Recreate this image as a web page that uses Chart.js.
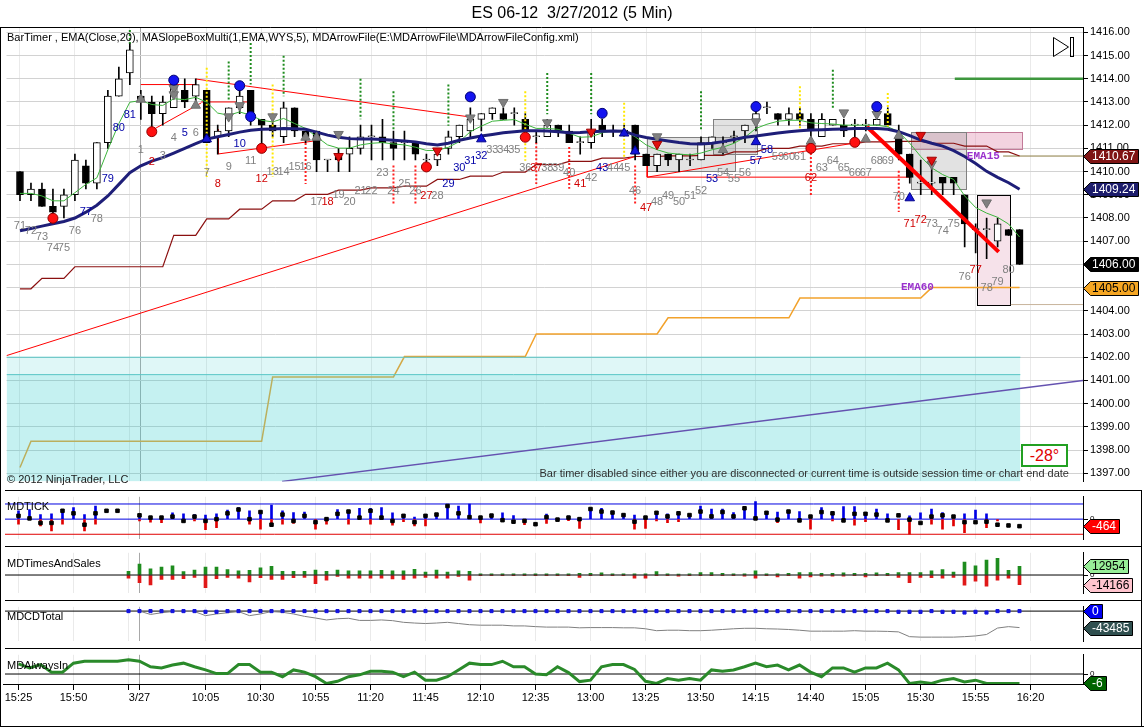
<!DOCTYPE html>
<html>
<head>
<meta charset="utf-8">
<title>ES 06-12 3/27/2012 (5 Min)</title>
<script src="https://cdn.jsdelivr.net/npm/chart.js@4.4.1/dist/chart.umd.min.js"></script>
<style>
body { margin: 0; background: #fff; font-family: "Liberation Sans", Arial, sans-serif; }
#wrap { position: relative; width: 1144px; height: 728px; overflow: hidden; background: #fff; }
canvas { position: absolute; left: 0; }
.txt { position: absolute; font-size: 11px; line-height: 13px; color: #000; white-space: nowrap; }
#title { left: 0; width: 1144px; top: 4px; text-align: center; font-size: 16px; line-height: 18px; }
#frame { position: absolute; left: 0; top: 27px; width: 1160px; height: 699px; border-left: 1px solid #000; border-bottom: 1px solid #000; pointer-events: none; }
#frameR { position: absolute; left: 1141px; top: 490px; width: 0; height: 237px; border-left: 1px solid #000; pointer-events: none; }
#angle { position: absolute; left: 1021px; top: 444px; width: 43px; height: 19px; border: 2px solid #22A022; color: #E00000; font-size: 16px; line-height: 19px; text-align: center; background: #fff; }
#play { position: absolute; left: 1052px; top: 36px; }
</style>
</head>
<body>
<div id="wrap">
  <canvas id="cMain" width="1144" height="490" style="top:0px"></canvas>
  <canvas id="cTick" width="1144" height="56" style="top:490px"></canvas>
  <canvas id="cTas" width="1144" height="54" style="top:546px"></canvas>
  <canvas id="cCd" width="1144" height="48" style="top:600px"></canvas>
  <canvas id="cAlw" width="1144" height="80" style="top:648px"></canvas>

  <div class="txt" id="title">ES 06-12&nbsp; 3/27/2012 (5 Min)</div>
  <div class="txt" style="left:7px; top:31px;">BarTimer , EMA(Close,20), MASlopeBoxMulti(1,EMA,WYS,5), MDArrowFile(E:\MDArrowFile\MDArrowFileConfig.xml)</div>
  <div class="txt" style="left:7px; top:473px; color:#202020;">© 2012 NinjaTrader, LLC</div>
  <div class="txt" style="right:75px; top:467px; color:#303030;">Bar timer disabled since either you are disconnected or current time is outside session time or chart end date</div>
  <div id="angle">-28°</div>
  <svg id="play" width="24" height="23"><polygon points="1.5,1.5 16.5,11 1.5,20.5" fill="none" stroke="#000" stroke-width="1"/><rect x="18.5" y="1.5" width="3" height="19" fill="none" stroke="#000" stroke-width="1"/></svg>
  <div class="txt" style="left:7px; top:500px;">MDTICK</div>
  <div class="txt" style="left:7px; top:557px;">MDTimesAndSales</div>
  <div class="txt" style="left:7px; top:610px;">MDCDTotal</div>
  <div class="txt" style="left:7px; top:659px;">MDAlwaysIn</div>
  <div id="frame"></div>
  <div id="frameR"></div>
</div>

<script>
// 5 min bars: 15:25-16:15 on 3/26, then 9:35-16:15 on 3/27 (index 0..91)
const open = [
  1410, 1409, 1409.25, 1408.5, 1408.5, 1409, 1410.25, 1409.5, 1411.25, 1413.25,
  1414.25, 1413.25, 1413, 1412.5, 1412.75, 1413.5, 1413.25, 1413.5, 1411.5, 1411.75,
  1412.75, 1413.5, 1412.25, 1412, 1411.5, 1412.75, 1411.75, 1411.75, 1410.5, 1410.75,
  1410.75, 1411, 1411.5, 1411.5, 1411.25, 1411.25, 1411.25, 1410.5, 1410.5, 1411,
  1411.5, 1411.75, 1412.25, 1412.5, 1412.5, 1412.5, 1412.25, 1411.5, 1411.5, 1412,
  1411.75, 1411.25, 1411.25, 1412, 1411.75, 1411.75, 1412, 1410.75, 1410.25, 1410.75,
  1410.5, 1410.5, 1410.5, 1411.25, 1411.25, 1411.5, 1411.75, 1412.25, 1412.75, 1412.5,
  1412.25, 1412.5, 1412.25, 1411.5, 1412, 1412, 1412, 1412, 1412, 1412.5,
  1411.5, 1410.75, 1409.5, 1409.5, 1409.75, 1409.75, 1409, 1407.5, 1407.5, 1407,
  1407.5, 1407.5
];
const high = [
  1410, 1409.5, 1409.5, 1409.25, 1409.25, 1410.75, 1410.5, 1411.25, 1413.5, 1414.5,
  1415.5, 1413.5, 1413.25, 1413.25, 1414, 1414, 1414, 1413.5, 1412, 1412.75,
  1413.5, 1413.5, 1412.25, 1412.25, 1413, 1412.75, 1411.75, 1411.75, 1410.5, 1411,
  1411.5, 1412, 1412, 1412.25, 1411.75, 1411.75, 1411.25, 1410.75, 1411, 1411.75,
  1412, 1412.75, 1412.5, 1412.75, 1412.75, 1412.75, 1412.5, 1411.75, 1412.25, 1412,
  1412, 1411.5, 1412.25, 1412.25, 1412, 1412, 1412, 1410.75, 1410.75, 1410.75,
  1410.75, 1410.75, 1411.5, 1411.5, 1411.5, 1411.75, 1412, 1413, 1413, 1412.5,
  1412.75, 1412.75, 1412.5, 1412.5, 1412.25, 1412.25, 1412.25, 1412.25, 1412.75, 1412.75,
  1412, 1410.75, 1410.5, 1410.25, 1409.75, 1409.75, 1409, 1407.75, 1408, 1408,
  1407.5, 1407.5
];
const low = [
  1408.75, 1408.75, 1408.5, 1408, 1408, 1408.75, 1409.25, 1409.25, 1411, 1413.25,
  1413.75, 1412.25, 1411.75, 1412, 1412.75, 1412.75, 1412.75, 1411.25, 1410.75, 1411.5,
  1412.5, 1412, 1411, 1411.5, 1411.25, 1411.5, 1411.25, 1410, 1410, 1410,
  1410, 1410.75, 1410.5, 1410.5, 1410.5, 1410.5, 1410.5, 1410.25, 1410.25, 1410.75,
  1411.25, 1411.5, 1411.75, 1412.25, 1412.25, 1412, 1411.5, 1411.25, 1411.5, 1411.5,
  1411.25, 1410.75, 1411, 1411.5, 1411.5, 1411.5, 1410.5, 1410.25, 1410, 1410.25,
  1410, 1410.25, 1410.5, 1411, 1410.75, 1411.25, 1411.25, 1411.75, 1412.5, 1412,
  1412, 1412, 1411.25, 1411.5, 1412, 1411.5, 1411.5, 1411.75, 1412, 1412,
  1410.5, 1409.5, 1409, 1409, 1409, 1409, 1406.75, 1406.5, 1406.25, 1406.75,
  1407.25, 1406
];
const close = [
  1409, 1409.25, 1408.5, 1408.25, 1409, 1410.5, 1409.5, 1411.25, 1413.25, 1414,
  1415.25, 1413, 1412.5, 1413, 1413.75, 1413, 1413.75, 1411.25, 1411.75, 1412.75,
  1413.25, 1412.25, 1412, 1411.75, 1412.75, 1411.75, 1411.5, 1410.5, 1410.5, 1410.5,
  1411, 1411.5, 1411.5, 1411.25, 1411, 1411.25, 1410.75, 1410.5, 1410.75, 1411.5,
  1412, 1412.25, 1412.5, 1412.75, 1412.25, 1412.5, 1411.75, 1411.5, 1412, 1411.75,
  1411.25, 1411.25, 1411.75, 1411.75, 1411.75, 1411.75, 1410.75, 1410.25, 1410.75, 1410.5,
  1410.75, 1410.5, 1411.25, 1411.5, 1411.25, 1411.5, 1412, 1412.5, 1412.75, 1412.25,
  1412.5, 1412.25, 1411.75, 1412.25, 1412.25, 1411.75, 1412, 1412, 1412.25, 1412,
  1410.75, 1409.75, 1409.5, 1409.5, 1409.5, 1409.5, 1407.75, 1407.5, 1407.5, 1407.75,
  1407.25, 1406
];
// EMA(Close,20), thin green
const ema20 = [
  1409.06, 1409.06, 1408.95, 1408.74, 1408.74, 1409.09, 1409.45, 1409.73, 1410.94, 1412.07,
  1412.99, 1413.06, 1412.89, 1412.85, 1413.14, 1413.1, 1413.2, 1412.99, 1412.52, 1412.43,
  1412.57, 1412.43, 1412.21, 1412.14, 1412.29, 1412.07, 1411.86, 1411.5, 1411.15, 1411.01,
  1411.01, 1411.15, 1411.22, 1411.25, 1411.19, 1411.15, 1411.05, 1410.91, 1410.91, 1411.05,
  1411.29, 1411.72, 1411.96, 1412.17, 1412.21, 1412.24, 1412.04, 1411.86, 1411.86, 1411.82,
  1411.65, 1411.48, 1411.5, 1411.67, 1411.76, 1411.76, 1411.5, 1411.15, 1410.94, 1410.8,
  1410.75, 1410.72, 1410.8, 1410.94, 1411.05, 1411.22, 1411.48, 1411.86, 1412.04, 1412.17,
  1412.21, 1412.21, 1412.1, 1412.07, 1412.05, 1412, 1412, 1412, 1412, 1411.93,
  1411.72, 1411.22, 1410.65, 1410.16, 1409.87, 1409.66, 1408.95, 1408.45, 1408.21, 1408.03,
  1407.74, 1407.18
];
// slope EMA, thick navy
const emaSlow = [
  1407.45, 1407.55, 1407.65, 1407.75, 1407.85, 1408, 1408.25, 1408.55, 1408.95, 1409.45,
  1409.95, 1410.25, 1410.45, 1410.6, 1410.8, 1411, 1411.2, 1411.4, 1411.5, 1411.6,
  1411.7, 1411.78, 1411.82, 1411.84, 1411.86, 1411.85, 1411.82, 1411.7, 1411.57, 1411.48,
  1411.42, 1411.4, 1411.4, 1411.38, 1411.35, 1411.32, 1411.28, 1411.2, 1411.15, 1411.22,
  1411.35, 1411.45, 1411.53, 1411.6, 1411.67, 1411.72, 1411.76, 1411.76, 1411.75, 1411.72,
  1411.67, 1411.68, 1411.72, 1411.74, 1411.75, 1411.74, 1411.57, 1411.47, 1411.39, 1411.32,
  1411.25, 1411.2, 1411.19, 1411.22, 1411.29, 1411.38, 1411.48, 1411.53, 1411.6, 1411.66,
  1411.72, 1411.76, 1411.79, 1411.8, 1411.82, 1411.84, 1411.86, 1411.86, 1411.86, 1411.82,
  1411.72, 1411.55, 1411.36, 1411.22, 1411.1, 1410.9, 1410.65, 1410.35, 1410.01, 1409.75,
  1409.52, 1409.24
];
// EMA15 (15 min), dark red steps
const ema15 = [
  1404.95, 1404.95, 1405.4, 1405.4, 1405.4, 1405.9, 1405.9, 1405.9, 1405.9, 1405.9,
  1405.9, 1405.9, 1405.9, 1405.9, 1407.25, 1407.25, 1407.25, 1407.96, 1407.96, 1407.96,
  1408.38, 1408.38, 1408.38, 1408.74, 1408.74, 1408.74, 1409.02, 1409.02, 1409.02, 1409.2,
  1409.2, 1409.2, 1409.3, 1409.3, 1409.3, 1409.37, 1409.37, 1409.37, 1409.66, 1409.66,
  1409.66, 1409.8, 1409.8, 1409.8, 1409.98, 1409.98, 1409.98, 1410.3, 1410.3, 1410.3,
  1410.44, 1410.44, 1410.44, 1410.58, 1410.58, 1410.58, 1410.65, 1410.65, 1410.65, 1410.68,
  1410.68, 1410.68, 1410.7, 1410.7, 1410.7, 1410.85, 1410.85, 1410.85, 1411, 1411,
  1411, 1411.1, 1411.1, 1411.1, 1411.2, 1411.2, 1411.2, 1411.28, 1411.28, 1411.28,
  1411.3, 1411.3, 1411.3, 1411.22, 1411.22, 1411.22, 1411.1, 1411.1, 1411.1, 1410.85,
  1410.85, 1410.67
];
// EMA60 (60 min), orange steps
const ema60 = [
  1397.25, 1398.38, 1398.38, 1398.38, 1398.38, 1398.38, 1398.38, 1398.38, 1398.38, 1398.38,
  1398.38, 1398.38, 1398.38, 1398.38, 1398.38, 1398.38, 1398.38, 1398.38, 1398.38, 1398.38,
  1398.38, 1398.38, 1398.38, 1401.15, 1401.15, 1401.15, 1401.15, 1401.15, 1401.15, 1401.15,
  1401.15, 1401.15, 1401.15, 1401.15, 1401.15, 1402.03, 1402.03, 1402.03, 1402.03, 1402.03,
  1402.03, 1402.03, 1402.03, 1402.03, 1402.03, 1402.03, 1402.03, 1403, 1403, 1403,
  1403, 1403, 1403, 1403, 1403, 1403, 1403, 1403, 1403, 1403.7,
  1403.7, 1403.7, 1403.7, 1403.7, 1403.7, 1403.7, 1403.7, 1403.7, 1403.7, 1403.7,
  1403.7, 1404.55, 1404.55, 1404.55, 1404.55, 1404.55, 1404.55, 1404.55, 1404.55, 1404.55,
  1404.55, 1404.55, 1404.55, 1405, 1405, 1405, 1405, 1405, 1405, 1405,
  1405, 1405
];
// bar counters printed under the bars
const barNumbers = [
  71, 72, 73, 74, 75, 76, 77, 78, 79, 80,
  81, 1, 2, 3, 4, 5, 6, 7, 8, 9,
  10, 11, 12, 13, 14, 15, 16, 17, 18, 19,
  20, 21, 22, 23, 24, 25, 26, 27, 28, 29,
  30, 31, 32, 33, 34, 35, 36, 37, 38, 39,
  40, 41, 42, 43, 44, 45, 46, 47, 48, 49,
  50, 51, 52, 53, 54, 55, 56, 57, 58, 59,
  60, 61, 62, 63, 64, 65, 66, 67, 68, 69,
  70, 71, 72, 73, 74, 75, 76, 77, 78, 79,
  80, null
];
const barNumberPrice = [
  1407.67, 1407.42, 1407.18, 1406.71, 1406.71, 1407.46, 1408.24, 1407.96, 1409.69, 1411.9,
  1412.43, 1410.94, 1410.4, 1410.68, 1411.43, 1411.65, 1411.65, 1409.94, 1409.45, 1410.2,
  1411.19, 1410.44, 1409.69, 1409.97, 1409.97, 1410.2, 1410.2, 1408.67, 1408.67, 1408.98,
  1408.67, 1409.16, 1409.16, 1409.94, 1409.16, 1409.45, 1409.16, 1408.95, 1408.95, 1409.45,
  1410.16, 1410.44, 1410.68, 1410.94, 1410.94, 1410.94, 1410.16, 1410.16, 1410.16, 1410.16,
  1409.94, 1409.45, 1409.73, 1410.16, 1410.16, 1410.16, 1409.16, 1408.45, 1408.67, 1408.95,
  1408.67, 1408.95, 1409.16, 1409.69, 1409.94, 1409.69, 1409.94, 1410.44, 1410.94, 1410.65,
  1410.65, 1410.65, 1409.73, 1410.16, 1410.44, 1410.16, 1409.94, 1409.94, 1410.44, 1410.44,
  1408.92, 1407.74, 1407.93, 1407.74, 1407.46, 1407.74, 1405.48, 1405.76, 1404.98, 1405.23,
  1405.76, null
];
const redNumbered = [12, 18, 22, 28, 37, 47, 51, 57, 72, 81, 82, 87];
const blueNumbered = [6, 8, 9, 10, 15, 20, 39, 40, 41, 42, 53, 63, 67, 68];

const priceTicks = [1397, 1398, 1399, 1400, 1401, 1402, 1403, 1404, 1405, 1406, 1407, 1408, 1409, 1410, 1411, 1412, 1413, 1414, 1415, 1416];
const timeTickBars = [0, 5, 10, 11, 17, 22, 27, 32, 37, 42, 47, 52, 57, 62, 67, 72, 77, 82, 87, 92];
const timeLabels = ['15:25', '15:50', '', '3/27', '10:05', '10:30', '10:55', '11:20', '11:45', '12:10', '12:35', '13:00', '13:25', '13:50', '14:15', '14:40', '15:05', '15:30', '15:55', '16:20'];
const sessionBar = 11;

// markers [bar, price]
const blueCircles = [[14, 1413.94], [20, 1413.7], [21, 1412.37], [41, 1413.22], [53, 1412.51], [67, 1412.8], [78, 1412.8]];
const redCircles = [[3, 1407.99], [12, 1411.72], [22, 1411.0], [37, 1410.2], [46, 1411.48], [72, 1411.0], [76, 1411.26]];
const grayDown = [[14, 1413.6], [14, 1413.32], [19, 1412.37], [20, 1412.85], [23, 1412.37], [29, 1411.61], [41, 1412.32], [44, 1412.99], [48, 1412.11], [58, 1411.51], [67, 1412.15], [75, 1412.54], [78, 1412.47], [83, 1410.33], [88, 1408.66]];
const grayUp = [[11, 1413.11], [16, 1412.85], [26, 1411.47], [27, 1411.47], [64, 1410.94], [72, 1411.3], [77, 1411.4], [80, 1411.54]];
const redDown = [[29, 1410.66], [38, 1410.9], [52, 1411.71], [58, 1411.18], [82, 1411.57], [83, 1410.5]];
const blueUp = [[17, 1411.4], [42, 1411.4], [55, 1411.65], [56, 1410.88], [67, 1411.28], [81, 1408.86]];

// dotted signal lines [bar, top, bottom]
const greenDots = [[10, 1416.1, 1415.4], [19, 1414.74, 1413.03], [21, 1415.54, 1413.75], [24, 1414.99, 1413.25], [31, 1414.0, 1412.25], [34, 1413.46, 1411.75], [39, 1413.75, 1411.97], [48, 1414.25, 1412.47], [52, 1414.25, 1412.47], [62, 1413.46, 1411.75], [74, 1414.39, 1412.68]];
const redDots = [[26, 1411.4, 1409.47], [34, 1410.26, 1408.62], [36, 1410.26, 1408.62], [47, 1411.26, 1409.47], [50, 1411.06, 1409.26], [56, 1410.26, 1408.62], [72, 1410.97, 1408.97], [80, 1410.04, 1408.26]];
const yellowDots = [[17, 1414.47, 1409.77], [23, 1413.75, 1409.77], [46, 1413.46, 1410.47], [55, 1412.97, 1410.54], [71, 1413.68, 1411.82], [79, 1413.39, 1411.82]];

// drawn lines [bar1, price1, bar2, price2]
const redLines = [
  [-1.23, 1402.07, 56, 1410.65],
  [16, 1413.99, 41, 1412.35],
  [11, 1413.75, 16, 1413.75],
  [11.9, 1411.75, 16.5, 1412.96],
  [16.5, 1413.0, 20.8, 1413.0],
  [18.05, 1411.82, 18.05, 1410.76],
  [18.05, 1410.76, 26.8, 1411.32],
  [57.1, 1410.72, 57.1, 1409.76],
  [57.1, 1409.76, 81.1, 1409.76],
  [57.1, 1409.76, 77.1, 1411.32]
];
const thickRed = [77.1, 1411.93, 89.1, 1406.54];
const purpleLine = [23.86, 1396.65, 96.77, 1401.0];
const greenLevel = [85.1, 1414, 96.77, 1414];
const ema15Ext = [89.5, 1410.67, 96.77, 1410.67];
const tanLevel = [90.2, 1404.27, 96.77, 1404.27];
const cyanZone = [[-1.23, 91.07, 1402.0], [-1.23, 91.07, 1401.25]];
// boxes [bar1, bar2, top, bottom]
const grayBoxes = [[57.1, 65.1, 1411.51, 1410.04], [63.1, 67.1, 1412.25, 1410.75], [81.1, 86.1, 1411.7, 1409.23]];
const pinkBoxes = [[81.1, 91.2, 1411.72, 1410.97]];
const frameBoxes = [[87.1, 90.1, 1408.98, 1404.27]];
const lineNotes = [['EMA15', 87.7, 1410.64], ['EMA60', 81.7, 1405.0]];

// MDTICK: high, low, close per bar
const tickHigh = [
  550, 633, 300, 350, 633, 767, 300, 867, 0, 0,
  null, 300, 167, 167, 417, 350, 300, 267, 350, 600,
  767, 550, 550, 933, 550, 433, 467, 0, 100, 633,
  550, 717, 717, 767, 417, 267, 133, 267, 383, 933,
  867, 1000, 0, 300, 417, 233, 0, 0, 333, 0,
  200, 0, 717, 717, 500, 350, 267, 0, 433, 350,
  467, 300, 867, 667, 667, 433, 767, 1167, 500, 467,
  550, 500, 0, 767, 467, 833, 833, 383, 667, 350,
  0, 217, 417, 667, 433, 0, 350, 600, 350, 0,
  0, 0
];
const tickLow = [
  -333, 0, -450, -783, -333, 0, -783, -333, 0, 0,
  null, -117, -200, -233, 0, 0, -117, -700, -567, 0,
  0, -333, -667, -500, -333, -283, 0, -667, -333, 0,
  -333, 0, -333, 0, -400, -167, -450, -450, 0, 0,
  0, 0, -250, 0, 0, 0, -367, 0, -283, 0,
  -100, -617, 0, 0, 0, 0, -667, -617, -117, -233,
  -167, 0, 0, 0, 0, 0, 0, 0, 0, -233,
  0, 0, -667, 0, -117, 0, -400, -167, 0, 0,
  -700, -1000, 0, -333, -667, -450, -900, 0, -567, -117,
  0, 0
];
const tickClose = [
  217, 50, -250, -250, 550, 383, -367, 383, 550, 550,
  null, 250, 100, 100, 167, -117, 167, -117, 0, 383,
  633, 0, 467, -367, 300, -117, 217, -200, 0, 350,
  500, 100, 550, 100, -117, 217, -200, 217, 300, 867,
  383, 133, 100, 233, -67, -167, -117, -333, 133, -33,
  100, 0, 667, 500, 433, 267, -167, 100, 417, 183,
  383, 267, 500, 183, 467, 183, 717, 50, 417, -33,
  500, -83, 167, 467, 383, -83, 350, 350, 300, -83,
  250, -33, -250, 167, 250, 167, -200, -200, -167, -367,
  -417, -464
];
const tickLevels = [1000, 0, -1000];

// MDTimesAndSales: buy and sell volume per bar
const tasBuy = [
  null, null, null, null, null, null, null, null, null, null,
  5550, 16280, 9250, 11840, 13690, 5180, 7400, 11840, 11840, 8140,
  6290, 7030, 10730, 12950, 5550, 5550, 5550, 7400, 5550, 7400,
  6290, 6290, 6290, 7030, 6290, 6290, 8510, 4440, 7400, 4440,
  6290, 5550, 1850, 1850, 1850, 1850, 1850, 1850, 1850, 1850,
  1850, 2590, 2590, 3330, 1850, 1850, 1850, 1850, 5180, 1850,
  1480, 1850, 3700, 3700, 2590, 1850, 1850, 6290, 1850, 1850,
  2590, 3700, 3700, 2590, 2590, 3330, 2590, 2590, 3330, 2590,
  3700, 3700, 3700, 6290, 8140, 4440, 19240, 13690, 22200, 24790,
  7030, 12954
];
const tasSell = [
  null, null, null, null, null, null, null, null, null, null,
  -4810, -11470, -14800, -6660, -6660, -5550, -3700, -18870, -5550, -3700,
  -4810, -10360, -4070, -6660, -6660, -4070, -3700, -12950, -7770, -2220,
  -4810, -4810, -4810, -4810, -5920, -6660, -4810, -3700, -4810, -4810,
  -2220, -7770, -1110, -1110, -1110, -1110, -1110, -1110, -1110, -1110,
  -1110, -3700, -1110, -1110, -1110, -1110, -4810, -4810, -1110, -1110,
  -1850, -1110, -1110, -1110, -1110, -1110, -1850, -4810, -1110, -2960,
  -1110, -4810, -2960, -1850, -1850, -1850, -1110, -2960, -1110, -1110,
  -3700, -11470, -3700, -4070, -4810, -3700, -15170, -9250, -16650, -7770,
  -4810, -14166
];

// MDCDTotal: cumulative delta and its blue zero dots
const cdTotal = [
  null, null, null, null, null, null, null, null, null, null,
  0, 0, -8820, -4410, -1260, 0, -1260, -11970, -7560, -4410,
  -1260, -11970, -7560, -1260, -3150, -7560, -13860, -18270, -23310, -20160,
  -18900, -24570, -24570, -23310, -25200, -29610, -31500, -32760, -31500, -29610,
  -32760, -35910, -37170, -37170, -37170, -39060, -39060, -40950, -42210, -42210,
  -42210, -44100, -43470, -43470, -43470, -44100, -44100, -46620, -51660, -50400,
  -50400, -51660, -51660, -50400, -48510, -46620, -45360, -45360, -46620, -47250,
  -48510, -50400, -52920, -52920, -52920, -52920, -51660, -52920, -52920, -53550,
  -54810, -67410, -68670, -68670, -68670, -68670, -67410, -65520, -61740, -44730,
  -40950, -43485
];
const cdDots = [
  null, null, null, null, null, null, null, null, null, null,
  0, 0, 0, 0, 0, 0, 0, -1900, -1900, 0,
  0, 0, 0, 0, 0, 0, 0, 0, 0, 0,
  0, 0, 0, 0, 0, 0, 0, 0, 0, 0,
  0, 0, 0, 0, 0, 0, 0, 0, 0, 0,
  0, 0, 0, 0, 0, 0, 0, 0, 0, 0,
  0, 0, 0, 0, 0, 0, 0, 0, 0, 0,
  0, 0, 0, 0, 0, 0, 0, 0, 0, 0,
  -1900, -1900, -1900, 0, -1900, -1900, -3800, -1900, -3800, 0,
  0, 0
];

// MDAlwaysIn
const alwaysIn = [
  6.5, 3.9, 6.0, 1.2, 1.2, 6.9, 8.1, 8.1, 8.1, 8.1,
  9.1, 8.1, 4.6, 3.8, 5.7, 6.9, 4.6, 2.6, 0.3, 0.3,
  6.0, 6.0, 1.2, 1.2, -1.7, 2.6, 1.2, -1.7, -6.0, -4.6,
  -1.7, -0.5, 1.7, 1.7, 1.2, -1.7, 1.2, -3.9, -3.9, -1.7,
  2.6, 6.9, 6.0, 6.0, 8.1, 4.6, 4.6, 0, -0.5, 4.6,
  0.9, -4.8, -3.9, 4.6, 6.0, 6.0, 2.9, -4.6, -6.0, -2.9,
  -3.9, -2.9, -3.9, 2.6, 1.7, 2.6, 4.6, 6.9, 4.6, 5.7,
  2.6, 5.7, 1.2, -1.7, 3.9, 3.9, 1.2, 3.9, 3.9, 6.9,
  2.6, -6.0, -5.0, -6.0, -3.9, -2.9, -5.0, -3.9, -6, -6,
  -6, -6
];

const X_MIN = -1.2273, X_MAX = 96.7727;
const AXIS_W = 61;
const FONT = '"Liberation Sans", Arial, sans-serif';

Chart.defaults.font.family = FONT;
Chart.defaults.font.size = 11;
Chart.defaults.color = '#000';

window.onload = function() {
    mainChart();
    tickPanel();
    tasPanel();
    cdPanel();
    alwaysInPanel();
};

function pts(values) { return values.map((v, i) => ({ x: i, y: v })); }
function seg(s) { return [{ x: s[0], y: s[1] }, { x: s[2], y: s[3] }]; }
function segs(list) { return list.flatMap(s => seg(s).concat([{ x: s[2], y: null }])); }
function dots(list) { return list.flatMap(d => [{ x: d[0], y: d[1] }, { x: d[0], y: d[2] }, { x: d[0], y: null }]); }
function marks(list) { return list.map(p => ({ x: p[0], y: p[1] })); }

function lineSet(data, color, width, order, extra) {
    return Object.assign({
        type: 'line', data: data, borderColor: color, borderWidth: width,
        pointRadius: 0, tension: 0, fill: false, spanGaps: false, order: order
    }, extra || {});
}
function dotSet(list, color, order) {
    return lineSet(dots(list), color, 2, order, { borderDash: [2, 2], borderCapStyle: 'butt' });
}
function markSet(list, style, rotation, bg, border, radius, order) {
    return {
        type: 'line', data: marks(list), showLine: false, pointStyle: style, rotation: rotation,
        pointRadius: radius, pointBackgroundColor: bg, pointBorderColor: border, pointBorderWidth: 1, order: order
    };
}
function zoneSet(z, order) {
    return lineSet([{ x: z[0], y: z[2] }, { x: z[1], y: z[2] }], '#58C6C6', 1, order,
        { fill: 'start', backgroundColor: 'rgba(64,208,208,0.17)' });
}
function rangeBars(values, from, color, thickness, order) {
    const data = [];
    values.forEach((v, i) => { if (v !== null && v !== 0) data.push({ x: i, y: from ? [v, 0] : [0, v] }); });
    return { type: 'bar', data: data, backgroundColor: color, barThickness: thickness, grouped: false, order: order };
}

function xScale(withLabels) {
    return {
        type: 'linear', min: X_MIN, max: X_MAX, offset: false,
        afterBuildTicks: s => { s.ticks = timeTickBars.map(v => ({ value: v })); },
        afterFit: s => { s.height = withLabels ? 44 : 0; },
        grid: {
            offset: false, drawTicks: withLabels, tickLength: 6, tickColor: '#000',
            color: c => (c.tick && c.tick.value === sessionBar) ? '#A8A8A8' : '#EAEAEA'
        },
        border: { display: false },
        ticks: {
            display: withLabels, autoSkip: false, maxRotation: 0, padding: 1,
            font: { size: 11 }, callback: (v, i) => timeLabels[i]
        }
    };
}
function yScale(min, max, ticks, fmt, mainGrid) {
    return {
        type: 'linear', position: 'right', min: min, max: max,
        afterBuildTicks: s => { s.ticks = ticks.map(v => ({ value: v })); },
        afterFit: s => { s.width = AXIS_W; },
        grid: { drawOnChartArea: mainGrid, color: '#D2D2D2', tickColor: '#000', tickLength: 5 },
        border: { display: true, color: '#000' },
        ticks: { padding: 2, font: { size: mainGrid ? 11 : 8 }, callback: fmt }
    };
}
function options(y, withLabels, padTop, padBottom) {
    return {
        responsive: false, animation: false, events: [],
        layout: { padding: { left: 5, right: 0, top: padTop, bottom: padBottom } },
        plugins: { legend: { display: false }, tooltip: { enabled: false } },
        scales: { x: xScale(withLabels), y: y }
    };
}

function tagPlugin(tags) {
    return {
        id: 'tags',
        afterDraw(chart) {
            const c = chart.ctx, ys = chart.scales.y, x0 = chart.chartArea.right;
            c.save();
            c.font = '12px ' + FONT;
            c.textBaseline = 'middle';
            tags.forEach(t => {
                let y = Math.round(ys.getPixelForValue(t.value)) + 0.5;
                y = Math.min(Math.max(y, 7.5), chart.height - 7.5);
                const w = c.measureText(t.text).width;
                const x1 = Math.round(x0 + 9 + w + 3) + 0.5;
                c.beginPath();
                c.moveTo(x0 + 0.5, y);
                c.lineTo(x0 + 7.5, y - 7);
                c.lineTo(x1, y - 7);
                c.lineTo(x1, y + 7);
                c.lineTo(x0 + 7.5, y + 7);
                c.closePath();
                c.fillStyle = t.bg;
                c.fill();
                c.strokeStyle = '#000';
                c.lineWidth = 1;
                c.stroke();
                c.fillStyle = t.fg;
                c.fillText(t.text, x0 + 9, y + 0.5);
            });
            c.restore();
        }
    };
}
function edgePlugin(top, bottom) {
    return {
        id: 'edges',
        afterDraw(chart) {
            const c = chart.ctx, a = chart.chartArea;
            c.save();
            c.strokeStyle = '#000';
            c.lineWidth = 1;
            c.beginPath();
            if (top === 'panel') { c.moveTo(5, 0.5); c.lineTo(1141, 0.5); }
            if (top === 'main') { c.moveTo(0, a.top + 0.5); c.lineTo(a.right, a.top + 0.5); }
            if (bottom) { c.moveTo(3, a.bottom + 0.5); c.lineTo(a.right, a.bottom + 0.5); }
            c.stroke();
            c.restore();
        }
    };
}
const boxPlugin = {
    id: 'boxes',
    beforeDatasetsDraw(chart) {
        const c = chart.ctx, xs = chart.scales.x, ys = chart.scales.y;
        const rect = (b, fill, stroke) => {
            const x1 = Math.round(xs.getPixelForValue(b[0])) + 0.5, x2 = Math.round(xs.getPixelForValue(b[1])) + 0.5;
            const y1 = Math.round(ys.getPixelForValue(b[2])) + 0.5, y2 = Math.round(ys.getPixelForValue(b[3])) + 0.5;
            c.fillStyle = fill;
            c.fillRect(x1, y1, x2 - x1, y2 - y1);
            c.strokeStyle = stroke;
            c.strokeRect(x1, y1, x2 - x1, y2 - y1);
        };
        c.save();
        c.lineWidth = 1;
        frameBoxes.forEach(b => rect(b, '#F6E2EA', '#000'));
        pinkBoxes.forEach(b => rect(b, 'rgba(222,130,165,0.35)', '#C27A98'));
        grayBoxes.forEach(b => rect(b, 'rgba(150,150,150,0.28)', '#808080'));
        c.restore();
    }
};
const numberPlugin = {
    id: 'numbers',
    afterDatasetsDraw(chart) {
        const c = chart.ctx, xs = chart.scales.x, ys = chart.scales.y;
        c.save();
        c.textAlign = 'center';
        c.textBaseline = 'middle';
        c.font = '11px ' + FONT;
        barNumbers.forEach((n, i) => {
            if (n === null) return;
            c.fillStyle = redNumbered.includes(i) ? '#D00000' : (blueNumbered.includes(i) ? '#0000A8' : '#808080');
            c.fillText(String(n), xs.getPixelForValue(i), ys.getPixelForValue(barNumberPrice[i]));
        });
        c.font = 'bold 11px "Liberation Mono", "DejaVu Sans Mono", monospace';
        c.fillStyle = '#9A32CD';
        lineNotes.forEach(n => c.fillText(n[0], xs.getPixelForValue(n[1]), ys.getPixelForValue(n[2])));
        c.restore();
    }
};

function mainChart() {
    const ctx = document.getElementById('cMain');
    new Chart(ctx, {
        type: 'bar',
        data: {
            datasets: [
                lineSet(pts(ema60), '#F2A22C', 1.5, 100),
                zoneSet(cyanZone[0], 95),
                zoneSet(cyanZone[1], 94),
                lineSet(seg(purpleLine), '#6552B0', 1.5, 80),
                lineSet(pts(ema15), '#8B1010', 1.2, 70),
                lineSet(seg(ema15Ext), '#8A7A40', 1, 70),
                lineSet(seg(tanLevel), '#C8B49C', 1, 70),
                lineSet(seg(greenLevel), '#3E973E', 2.5, 70),
                lineSet(segs(redLines), '#FF0000', 1, 60),
                dotSet(greenDots, '#1E8C1E', 55),
                dotSet(redDots, '#FF2020', 55),
                {
                    type: 'bar', data: open.map((o, i) => ({ x: i, y: [low[i], high[i]] })),
                    backgroundColor: '#000', barThickness: 1, grouped: false, order: 50
                },
                {
                    type: 'bar', data: open.map((o, i) => ({ x: i, y: [o, close[i]] })),
                    backgroundColor: open.map((o, i) => close[i] >= o ? '#FFFFFF' : '#000000'),
                    borderColor: '#000', borderWidth: 1, borderSkipped: false,
                    barThickness: 7, minBarLength: 1, grouped: false, order: 45
                },
                dotSet(yellowDots, '#FFE800', 40),
                lineSet(seg(thickRed), '#FF0000', 4, 38),
                lineSet(pts(ema20), '#3CB43C', 1, 35),
                lineSet(pts(emaSlow), '#1E1E78', 3, 30),
                markSet(grayDown, 'triangle', 180, '#808080', '#6E6E6E', 5.5, 12),
                markSet(grayUp, 'triangle', 0, '#808080', '#6E6E6E', 5.5, 12),
                markSet(redDown, 'triangle', 180, '#E01010', '#A00000', 5.5, 11),
                markSet(blueUp, 'triangle', 0, '#1414D8', '#00008C', 5.5, 11),
                markSet(blueCircles, 'circle', 0, '#1414F0', '#000070', 5, 10),
                markSet(redCircles, 'circle', 0, '#FF1010', '#900000', 5, 10)
            ]
        },
        options: options(yScale(1396.65, 1416.23, priceTicks, v => v.toFixed(2), true), false, 27, 5),
        plugins: [boxPlugin, numberPlugin, edgePlugin('main', false), tagPlugin([
            { value: ema15[91], text: ema15[91].toFixed(2), bg: '#7F1414', fg: '#FFFFFF' },
            { value: emaSlow[91], text: emaSlow[91].toFixed(2), bg: '#1C1C6C', fg: '#FFFFFF' },
            { value: close[91], text: close[91].toFixed(2), bg: '#000000', fg: '#FFFFFF' },
            { value: ema60[91], text: ema60[91].toFixed(2), bg: '#F5A623', fg: '#000000' }
        ])]
    });
}

function tickPanel() {
    const ctx = document.getElementById('cTick');
    const levelColors = ['#0000E0', '#0000E0', '#E00000'];
    const levels = tickLevels.map((v, k) => lineSet([{ x: X_MIN, y: v }, { x: X_MAX, y: v }], levelColors[k], 1, 90));
    new Chart(ctx, {
        type: 'bar',
        data: {
            datasets: levels.concat([
                rangeBars(tickHigh, false, '#0000E6', 2, 50),
                rangeBars(tickLow, true, '#E00000', 2, 50),
                markSet(tickClose.map((v, i) => [i, v]).filter(p => p[1] !== null), 'rect', 0, '#000', '#000', 2.5, 10)
            ])
        },
        options: options(yScale(-1325, 1475, [0], v => String(v), false), false, 0, 0),
        plugins: [edgePlugin('panel', false), tagPlugin([
            { value: tickClose[91], text: String(tickClose[91]), bg: '#FF0000', fg: '#FFFFFF' }
        ])]
    });
}

function tasPanel() {
    const ctx = document.getElementById('cTas');
    new Chart(ctx, {
        type: 'bar',
        data: {
            datasets: [
                lineSet([{ x: X_MIN, y: 0 }, { x: X_MAX, y: 0 }], '#000', 1, 10),
                rangeBars(tasBuy, false, '#1E8C1E', 3, 50),
                rangeBars(tasSell, true, '#E01818', 3, 50)
            ]
        },
        options: options(yScale(-26973, 32967, [0], v => String(v), false), false, 0, 0),
        plugins: [edgePlugin('panel', false), tagPlugin([
            { value: tasBuy[91], text: String(tasBuy[91]), bg: '#98EE98', fg: '#000000' },
            { value: tasSell[91], text: String(tasSell[91]), bg: '#FFC4CE', fg: '#000000' }
        ])]
    });
}

function cdPanel() {
    const ctx = document.getElementById('cCd');
    new Chart(ctx, {
        type: 'bar',
        data: {
            datasets: [
                lineSet([{ x: X_MIN, y: 0 }, { x: X_MAX, y: 0 }], '#000', 1, 90),
                lineSet(pts(cdTotal), '#7F7F7F', 1, 50),
                markSet(cdDots.map((v, i) => [i, v]).filter(p => p[1] !== null), 'rect', 0, '#1515E0', '#1515E0', 2.2, 10)
            ]
        },
        options: options(yScale(-79380, 11340, [0], v => String(v), false), false, 0, 0),
        plugins: [edgePlugin('panel', false), tagPlugin([
            { value: cdDots[91], text: String(cdDots[91]), bg: '#0000F0', fg: '#FFFFFF' },
            { value: cdTotal[91], text: String(cdTotal[91]), bg: '#2F4F4F', fg: '#FFFFFF' }
        ])]
    });
}

function alwaysInPanel() {
    const ctx = document.getElementById('cAlw');
    new Chart(ctx, {
        type: 'bar',
        data: {
            datasets: [
                lineSet([{ x: X_MIN, y: 0 }, { x: X_MAX, y: 0 }], '#000', 1, 90),
                lineSet(pts(alwaysIn), '#2A8A2A', 3, 50)
            ]
        },
        options: options(yScale(-6.33, 12.2, [0], v => String(v), false), true, 0, 0),
        plugins: [edgePlugin('panel', true), tagPlugin([
            { value: alwaysIn[91], text: String(alwaysIn[91]), bg: '#006400', fg: '#FFFFFF' }
        ])]
    });
}
</script>
</body>
</html>
